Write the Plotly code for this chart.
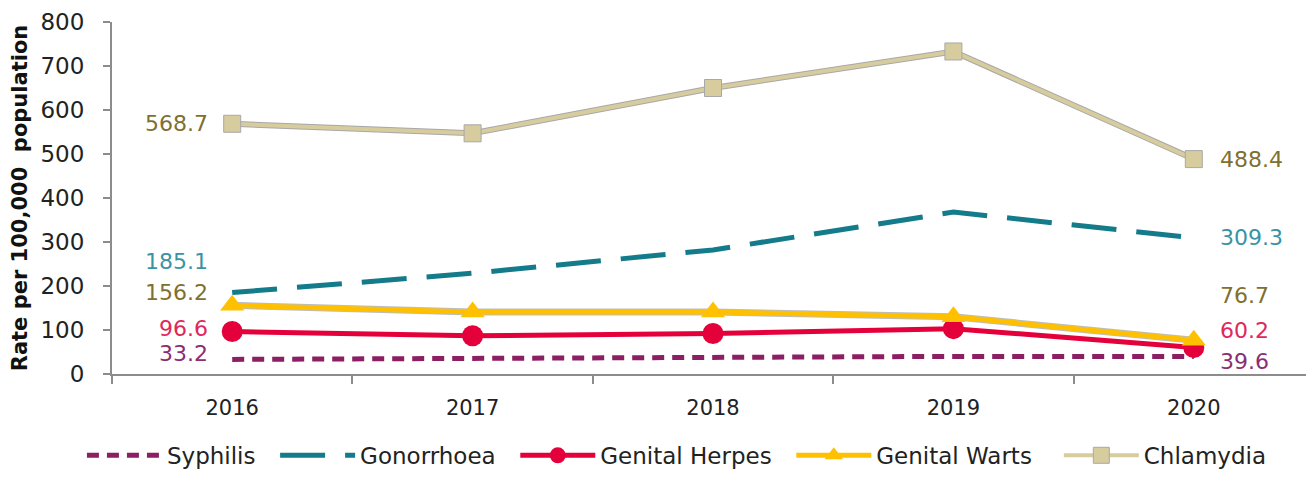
import plotly.graph_objects as go

years = ["2016", "2017", "2018", "2019", "2020"]
syphilis = [33.2, 36, 40, 40, 39.6]
gonorrhoea = [185.1, 229, 282, 368, 309.3]
herpes = [96.6, 87, 92, 103, 60.2]
warts = [156.2, 141, 141, 130, 76.7]
chlamydia = [568.7, 547, 650, 733, 488.4]
yticks = [0, 100, 200, 300, 400, 500, 600, 700, 800]

FONT = "DejaVu Sans, Liberation Sans, Arial, sans-serif"
PAD = "\u00a0\u00a0"
fig = go.Figure()

fig.add_trace(go.Scatter(x=years, y=syphilis, name="Syphilis" + PAD, mode="lines",
                         line=dict(color="#8C1F64", width=5, dash="12px,8px")))
fig.add_trace(go.Scatter(x=years, y=gonorrhoea, name="Gonorrhoea" + PAD, mode="lines",
                         line=dict(color="#137B89", width=5, dash="45px,20px")))
fig.add_trace(go.Scatter(x=years, y=herpes, name="Genital Herpes" + PAD, mode="lines+markers",
                         line=dict(color="#E4003B", width=5),
                         marker=dict(symbol="circle", size=21, color="#E4003B")))
fig.add_trace(go.Scatter(x=years, y=warts, mode="lines", showlegend=False, hoverinfo="skip",
                         line=dict(color="#BDBDBD", width=7)))
fig.add_trace(go.Scatter(x=years, y=warts, name="Genital Warts" + PAD + "\u00a0", mode="lines+markers",
                         line=dict(color="#FFC000", width=5),
                         marker=dict(symbol="triangle-up", size=21, color="#FFC000")))
fig.add_trace(go.Scatter(x=years, y=chlamydia, mode="lines", showlegend=False, hoverinfo="skip",
                         line=dict(color="#A8A8A8", width=6)))
fig.add_trace(go.Scatter(x=years, y=chlamydia, name="Chlamydia", mode="lines+markers",
                         line=dict(color="#D6CC9E", width=4),
                         marker=dict(symbol="square", size=17, color="#D6CC9E",
                                     line=dict(color="#A8A8A8", width=1))))

label_specs = [
    (chlamydia, "#7F7030", 0, 0),
    (gonorrhoea, "#3A93A5", 31, 0),
    (warts, "#7F7030", 13, 45),
    (herpes, "#E0285A", 3, 17),
    (syphilis, "#8B2E72", 6, -5),
]
first, last = 0, len(years) - 1
for vals, col, ysh_l, ysh_r in label_specs:
    fig.add_annotation(x=first, y=vals[first], text=f"{vals[first]:.1f}", showarrow=False,
                       xref="x", yref="y", xanchor="right", xshift=-22, yshift=ysh_l,
                       font=dict(family=FONT, size=22, color=col))
    fig.add_annotation(x=last, y=vals[last], text=f"{vals[last]:.1f}", showarrow=False,
                       xref="x", yref="y", xanchor="left", xshift=24, yshift=ysh_r,
                       font=dict(family=FONT, size=22, color=col))

fig.update_layout(
    width=1306, height=469,
    margin=dict(l=104, r=0, t=14, b=98),
    plot_bgcolor="white", paper_bgcolor="white",
    font=dict(family=FONT, size=21, color="#222222"),
    showlegend=True,
    legend=dict(orientation="h", x=0.47, xanchor="center", y=-0.17, yanchor="top",
                font=dict(family=FONT, size=23, color="#222222"), itemwidth=75),
    xaxis=dict(type="category", range=[-0.5, 4.5], showline=True, linecolor="#8C8C8C",
               linewidth=2, ticks="outside", tickson="boundaries", ticklen=8,
               tickcolor="#8C8C8C", tickwidth=2, showgrid=False, zeroline=False,
               automargin=False, ticklabelstandoff=14,
               tickfont=dict(family=FONT, size=21, color="#222222")),
    yaxis=dict(range=[0, 800], tickvals=yticks, showline=True, linecolor="#8C8C8C",
               linewidth=2, ticks="outside", ticklen=7, tickcolor="#8C8C8C", tickwidth=2,
               showgrid=False, zeroline=False, automargin=False, ticklabelstandoff=14,
               tickfont=dict(family=FONT, size=23, color="#222222"),
               title=dict(text="<b>Rate per 100,000  population</b>",
                          font=dict(family=FONT, size=21, color="#111111"))),
)

fig.write_html("out.html")
